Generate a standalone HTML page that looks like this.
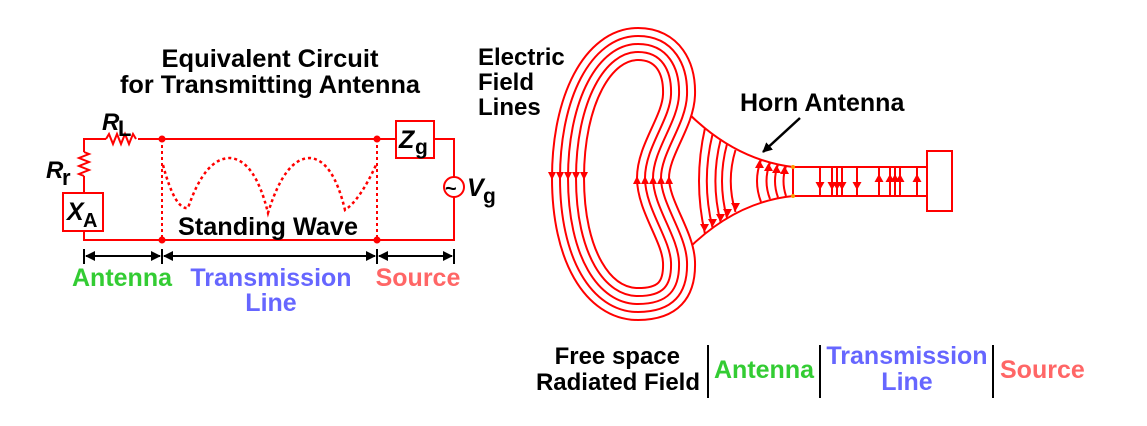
<!DOCTYPE html>
<html><head><style>
html,body{margin:0;padding:0;background:#fff;}
svg{display:block;}
text{font-family:"Liberation Sans",Arial,sans-serif;font-weight:bold;}
</style></head><body>
<svg width="1147" height="426" viewBox="0 0 1147 426" xmlns="http://www.w3.org/2000/svg">
<defs>
<marker id="ah" markerWidth="10" markerHeight="10" refX="9" refY="5" orient="auto" markerUnits="userSpaceOnUse"><path d="M0,0 L10,5 L0,10 Z" fill="#000"/></marker>
</defs>
<!-- Title -->
<text x="270" y="67" font-size="25" text-anchor="middle" textLength="217" lengthAdjust="spacingAndGlyphs">Equivalent Circuit</text>
<text x="270" y="93" font-size="25" text-anchor="middle" textLength="300" lengthAdjust="spacingAndGlyphs">for Transmitting Antenna</text>
<!-- circuit -->
<g stroke="#f00" stroke-width="2" fill="none">
<path d="M84,152 V139 H106 M138,139 H396 M434,139 H454 V177 M454,197 V240 H84 V231 M84,176 V193"/>
<path d="M106,139 l3,-5 l4,10 l4,-10 l4,10 l4,-10 l4,10 l4,-10 l3,5"/>
<path d="M84,152 l5,2 l-10,4 l10,4 l-10,4 l10,4 l-10,4 l5,2"/>
<rect x="63" y="193" width="40" height="38"/>
<rect x="396" y="121" width="38" height="37"/>
<circle cx="454" cy="187" r="10"/>
<path d="M162,139 V240 M377,139 V240" stroke-dasharray="3,3"/>
<path d="M163,165 Q175,210 188,208 Q205,158 230,158 Q255,160 268,213 Q285,158 310,158 Q333,160 345,210 Q360,200 376,165" stroke-dasharray="3,3" stroke-width="2.5"/>
</g>
<g fill="#f00"><circle cx="162" cy="139" r="3.5"/><circle cx="377" cy="139" r="3.5"/><circle cx="162" cy="240" r="3.5"/><circle cx="377" cy="240" r="3.5"/></g>
<text x="445" y="195" font-size="20" font-weight="bold">~</text>
<text x="102" y="130" font-size="24" font-style="italic">R</text><text x="118" y="136" font-size="22">L</text>
<text x="46" y="178" font-size="24" font-style="italic">R</text><text x="62" y="185" font-size="22">r</text>
<text x="67" y="220" font-size="25" font-style="italic">X</text><text x="83" y="227" font-size="20">A</text>
<text x="399" y="148" font-size="25" font-style="italic">Z</text><text x="415" y="154" font-size="21">g</text>
<text x="467" y="196" font-size="25" font-style="italic">V</text><text x="483" y="203" font-size="21">g</text>
<text x="268" y="235" font-size="25" text-anchor="middle" textLength="180" lengthAdjust="spacingAndGlyphs">Standing Wave</text>
<!-- dimension -->
<g stroke="#000" stroke-width="2" fill="none">
<path d="M84,249 V264 M162,249 V264 M377,249 V264 M454,249 V264"/>
<path d="M86,256 H160" marker-end="url(#ah)"/><path d="M160,256 H86" marker-end="url(#ah)"/>
<path d="M164,256 H375" marker-end="url(#ah)"/><path d="M375,256 H164" marker-end="url(#ah)"/>
<path d="M379,256 H452" marker-end="url(#ah)"/><path d="M452,256 H379" marker-end="url(#ah)"/>
</g>
<text x="122" y="286" font-size="25" fill="#33cc33" text-anchor="middle">Antenna</text>
<text x="271" y="286" font-size="25" fill="#6666ff" text-anchor="middle">Transmission</text>
<text x="271" y="311" font-size="25" fill="#6666ff" text-anchor="middle">Line</text>
<text x="418" y="286" font-size="25" fill="#ff6666" text-anchor="middle">Source</text>
<!-- right diagram -->
<text x="478" y="65" font-size="24">Electric</text>
<text x="478" y="90" font-size="24">Field</text>
<text x="478" y="115" font-size="24">Lines</text>
<text x="740" y="111" font-size="25">Horn Antenna</text>
<path d="M800,118 L763,152" stroke="#000" stroke-width="2.5" marker-end="url(#ah)"/>
<!-- horn -->
<g stroke="#f00" stroke-width="2" fill="none">
<path d="M687,112 Q735,160 793,167 H927 M687,250 Q735,202 793,196 H927 M793,167 V196"/>
<rect x="927" y="151" width="25" height="60"/>
<path d="M705,128 Q693,181 705,234 M712.6,134 Q701,181 712.6,228 M720.8,139 Q710,181 720.8,223 M727,144 Q717,181 727,218 M735.5,150 Q726,181 735.5,212"/>
<path d="M761,160 Q753,181 761,202 M770,163 Q763,181 770,199 M778,164.5 Q772,181 778,197.5 M786,166 Q781,181 786,196"/>
<path d="M820,167 V196 M832,167 V196 M837,167 V196 M842,167 V196 M857,167 V196 M879,167 V196 M890,167 V196 M895,167 V196 M900,167 V196 M917,167 V196"/>
</g>
<g fill="#f00">
<path d="M700,224 h9 l-4.5,8z M708,219 h9 l-4.5,8z M716,214 h9 l-4.5,8z M723,209 h9 l-4.5,8z M731,203 h9 l-4.5,8z"/>
<path d="M755,168 h9 l-4.5,-8z M764,171 h9 l-4.5,-8z M772,173 h9 l-4.5,-8z M780,174 h9 l-4.5,-8z"/>
<path d="M815.5,182 h9 l-4.5,8z M827.5,182 h9 l-4.5,8z M832.5,182 h9 l-4.5,8z M837.5,182 h9 l-4.5,8z M852.5,182 h9 l-4.5,8z"/>
<path d="M874.5,182 h9 l-4.5,-8z M885.5,182 h9 l-4.5,-8z M890.5,182 h9 l-4.5,-8z M895.5,182 h9 l-4.5,-8z M912.5,182 h9 l-4.5,-8z"/>
</g>
<circle cx="793" cy="167" r="2" fill="#f90"/><circle cx="793" cy="196" r="2" fill="#f90"/>
<!-- bean: stacked strokes -->
<g fill="none" stroke-linejoin="round">
<path d="M568,178 C568,100 598,44 638,44 C668,44 680,68 679,95 C678,122 653,150 653,178 C653,206 678,236 679,262 C680,290 668,304 638,304 C598,304 568,256 568,178 Z" stroke="#f00" stroke-width="34"/>
<path d="M568,178 C568,100 598,44 638,44 C668,44 680,68 679,95 C678,122 653,150 653,178 C653,206 678,236 679,262 C680,290 668,304 638,304 C598,304 568,256 568,178 Z" stroke="#fff" stroke-width="30"/>
<path d="M568,178 C568,100 598,44 638,44 C668,44 680,68 679,95 C678,122 653,150 653,178 C653,206 678,236 679,262 C680,290 668,304 638,304 C598,304 568,256 568,178 Z" stroke="#f00" stroke-width="18"/>
<path d="M568,178 C568,100 598,44 638,44 C668,44 680,68 679,95 C678,122 653,150 653,178 C653,206 678,236 679,262 C680,290 668,304 638,304 C598,304 568,256 568,178 Z" stroke="#fff" stroke-width="14"/>
<path d="M568,178 C568,100 598,44 638,44 C668,44 680,68 679,95 C678,122 653,150 653,178 C653,206 678,236 679,262 C680,290 668,304 638,304 C598,304 568,256 568,178 Z" stroke="#f00" stroke-width="2"/>
</g>
<g fill="#f00">
<path d="M548,172 h8 l-4,8z M556,172 h8 l-4,8z M564,172 h8 l-4,8z M572,172 h8 l-4,8z M580,172 h8 l-4,8z"/>
<path d="M633,184 h8 l-4,-8z M641,184 h8 l-4,-8z M649,184 h8 l-4,-8z M657,184 h8 l-4,-8z M665,184 h8 l-4,-8z"/>
</g>
<!-- bottom labels -->
<text x="680" y="364" font-size="24" text-anchor="end">Free space</text>
<text x="700" y="390" font-size="24" text-anchor="end">Radiated Field</text>
<g stroke="#000" stroke-width="2"><path d="M708,345 V398 M820,345 V398 M993,345 V398"/></g>
<text x="764" y="378" font-size="25" fill="#33cc33" text-anchor="middle">Antenna</text>
<text x="907" y="364" font-size="25" fill="#6666ff" text-anchor="middle">Transmission</text>
<text x="907" y="390" font-size="25" fill="#6666ff" text-anchor="middle">Line</text>
<text x="1000" y="378" font-size="25" fill="#ff6666">Source</text>
</svg>
</body></html>
